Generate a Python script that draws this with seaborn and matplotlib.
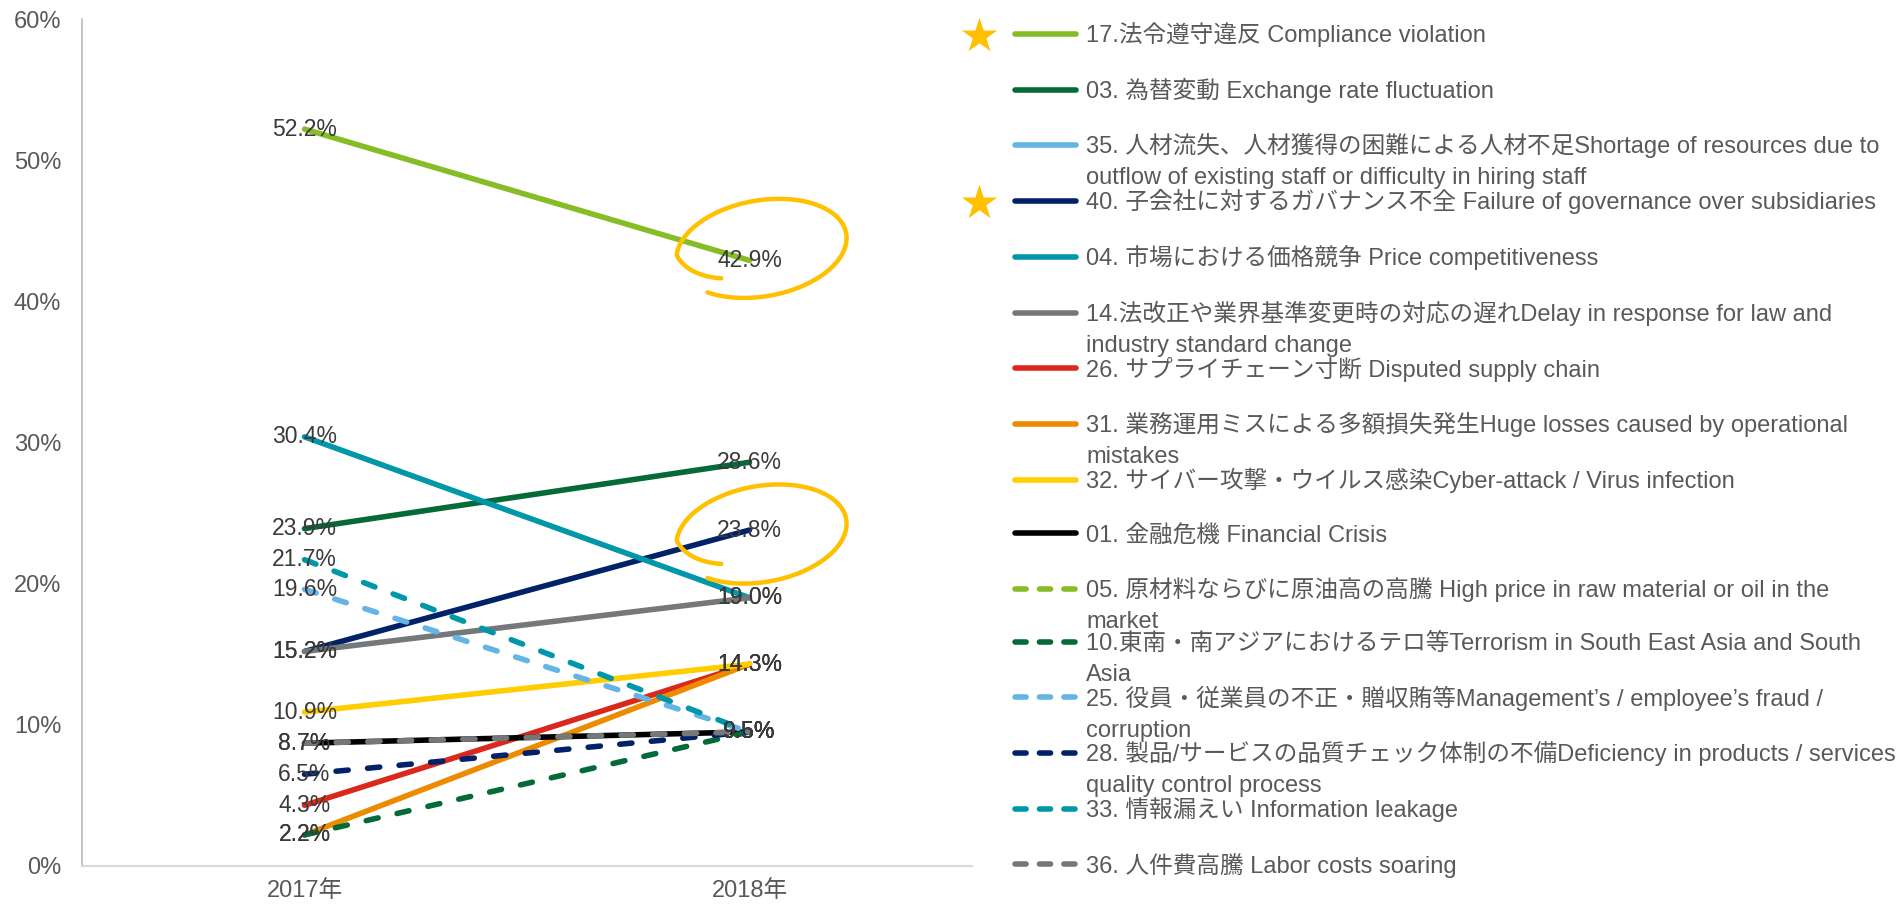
import numpy as np
import pandas as pd
import matplotlib
matplotlib.use("Agg")
import matplotlib.pyplot as plt
import matplotlib.transforms as mtransforms
from matplotlib.lines import Line2D
from matplotlib.path import Path
from matplotlib.patches import PathPatch
import seaborn as sns

# ---------------- data ----------------
years = ["2017年", "2018年"]

series_keys = ["17", "03", "35", "40", "04", "14", "26", "31", "32", "01",
               "05", "10", "25", "28", "33", "36"]

label_line1 = [
    "17.法令遵守違反 Compliance violation",
    "03. 為替変動 Exchange rate fluctuation",
    "35. 人材流失、人材獲得の困難による人材不足Shortage of resources due to",
    "40. 子会社に対するガバナンス不全 Failure of governance over subsidiaries",
    "04. 市場における価格競争 Price competitiveness",
    "14.法改正や業界基準変更時の対応の遅れDelay in response for law and",
    "26. サプライチェーン寸断 Disputed supply chain",
    "31. 業務運用ミスによる多額損失発生Huge losses caused by operational",
    "32. サイバー攻撃・ウイルス感染Cyber-attack / Virus infection",
    "01. 金融危機 Financial Crisis",
    "05. 原材料ならびに原油高の高騰 High price in raw material or oil in the",
    "10.東南・南アジアにおけるテロ等Terrorism in South East Asia and South",
    "25. 役員・従業員の不正・贈収賄等Management’s / employee’s fraud /",
    "28. 製品/サービスの品質チェック体制の不備Deficiency in products / services",
    "33. 情報漏えい Information leakage",
    "36. 人件費高騰 Labor costs soaring",
]
label_line2 = ["", "", "outflow of existing staff or difficulty in hiring staff", "", "",
               "industry standard change", "", "mistakes", "", "",
               "market", "Asia", "corruption", "quality control process", "", ""]

values_2017 = [52.2, 23.9, np.nan, 15.2, 30.4, 15.2, 4.3, 2.2, 10.9, 8.7,
               np.nan, 2.2, 19.6, 6.5, 21.7, 8.7]
values_2018 = [42.9, 28.6, np.nan, 23.8, 19.0, 19.0, 14.3, 14.3, 14.3, 9.5,
               np.nan, 9.5, 9.5, 9.5, 9.5, 9.5]

starred = ["17", "40"]
circled = ["17", "40"]

# ---------------- style ----------------
colors = ["#86BC25", "#046A38", "#62B5E5", "#012169", "#0097A9", "#75787B",
          "#DA291C", "#ED8B00", "#FFCD00", "#000000",
          "#86BC25", "#046A38", "#62B5E5", "#012169", "#0097A9", "#75787B"]
dashed = [False] * 10 + [True] * 6
DASH = (2.2, 3.5)
LEG_DASH = (2.0, 2.4)
LW = 4.0

sns.set_style("white")
plt.rcParams["font.family"] = ["Liberation Sans", "Noto Sans CJK JP", "DejaVu Sans"]
plt.rcParams["lines.dash_capstyle"] = "round"
plt.rcParams["lines.solid_capstyle"] = "round"

W, H = 1902, 906
fig = plt.figure(figsize=(W / 100, H / 100), dpi=100)
ax = fig.add_axes([82 / W, 40 / H, 890 / W, 847 / H])

rows = []
for k, a, b in zip(series_keys, values_2017, values_2018):
    for xi, v in enumerate([a, b]):
        rows.append({"series": k, "x": xi, "value": v})
df = pd.DataFrame(rows).dropna()

palette = dict(zip(series_keys, colors))
dashes = {k: (DASH if d else "") for k, d in zip(series_keys, dashed)}
present = [k for k in series_keys if k in set(df["series"])]

sns.lineplot(data=df, x="x", y="value", hue="series", style="series",
             hue_order=present, style_order=present,
             palette={k: palette[k] for k in present},
             dashes={k: dashes[k] for k in present},
             linewidth=LW, legend=False, sort=False, errorbar=None, ax=ax)

# data labels
for k, a, b in zip(series_keys, values_2017, values_2018):
    for xi, v in enumerate([a, b]):
        if not np.isnan(v):
            ax.text(xi, v, f"{v:.1f}%", ha="center", va="center",
                    fontsize=16.5, color="#3A3A3A", zorder=6)

# axes styling
ax.set_xlim(-0.5, 1.5)
ax.set_ylim(0, 60)
ax.set_xticks(range(len(years)), years)
yt = list(range(0, 61, 10))
ax.set_yticks(yt, [f"{v}%" for v in yt])
ax.tick_params(axis="y", length=0, pad=15, labelsize=17, labelcolor="#595959")
ax.tick_params(axis="x", length=0, pad=10, labelsize=17, labelcolor="#595959")
ax.set_xlabel("")
ax.set_ylabel("")
for s in ["top", "right"]:
    ax.spines[s].set_visible(False)
ax.spines["left"].set_color("#BFBFBF")
ax.spines["left"].set_linewidth(1.3)
ax.spines["bottom"].set_color("#D9D9D9")
ax.spines["bottom"].set_linewidth(1.6)

# hand-drawn style loops around highlighted 2018 values
def loop_path(dx, dy):
    t = np.radians(np.linspace(-135, 222, 300))
    t170 = np.radians(170)
    r = np.where(t > t170, 1 - 0.3 * (t - t170) / (np.radians(222) - t170), 1.0)
    x = 86 * r * np.cos(t)
    y = 48 * r * np.sin(t)
    ang = np.radians(10)
    xr = x * np.cos(ang) - y * np.sin(ang) + dx
    yr = x * np.sin(ang) + y * np.cos(ang) + dy
    return Path(np.column_stack([xr, yr]))

offsets = {"17": (12, 12), "40": (12, -4)}
for k in circled:
    i = series_keys.index(k)
    tr = mtransforms.Affine2D() + mtransforms.ScaledTranslation(1, values_2018[i], ax.transData)
    p = PathPatch(loop_path(*offsets[k]), transform=tr, fill=False,
                  edgecolor="#FFC000", linewidth=3.2, capstyle="round",
                  clip_on=False, zorder=7)
    ax.add_artist(p)

# legend
handles = []
for c, d in zip(colors, dashed):
    handles.append(Line2D([], [], color=c, linewidth=LW,
                          linestyle=(0, LEG_DASH) if d else "-",
                          dash_capstyle="round", solid_capstyle="round"))
leg = fig.legend(handles, label_line1, loc="upper left",
                 bbox_to_anchor=(1015 / W, 1 - 22 / H), frameon=False,
                 fontsize=17, handlelength=2.6, handletextpad=0.42,
                 labelspacing=1.3, borderpad=0, borderaxespad=0,
                 labelcolor="#595959")

fig.canvas.draw()
texts = leg.get_texts()
for t, l2 in zip(texts, label_line2):
    if l2:
        ax.annotate(l2, xy=(0, 0), xycoords=t, xytext=(0, -31),
                    textcoords="offset pixels", ha="left", va="bottom",
                    fontsize=17, color="#595959", annotation_clip=False)
for k in starred:
    t = texts[series_keys.index(k)]
    ax.annotate("★", xy=(0, 0.5), xycoords=t, xytext=(-108, -4),
                textcoords="offset pixels", ha="center", va="center",
                fontsize=33, color="#FFC000", family="DejaVu Sans",
                annotation_clip=False)

fig.savefig("out.png", dpi=100)
